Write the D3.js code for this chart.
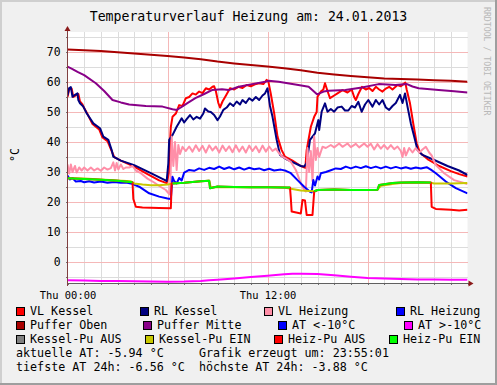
<!DOCTYPE html>
<html>
<head>
<meta charset="utf-8">
<script src="https://cdn.jsdelivr.net/npm/d3@7"></script>
<style>
  body { margin: 0; background: #fff; }
  svg text { font-family: "DejaVu Sans Mono", monospace; fill: #000; }
</style>
</head>
<body>
<div id="chart"></div>
<script>
// data: [hour, °C]
const vlKessel = [[0,55.0],[0.1,57.5],[0.25,57.8],[0.35,55],[0.5,55.5],[0.65,56],[0.75,53.5],[0.9,52.5],[1.0,51.3],[1.2,49.3],[1.5,46],[1.9,44.2],[2.1,41.5],[2.4,40.3],[2.65,37],[2.8,35],[3.2,33.8],[4.0,31.8],[4.8,29.3],[5.5,27.2],[5.95,26.3],
  [6.1,30],[6.15,40],[6.2,45],[6.3,48.4],[6.5,49.5],[6.7,52.3],[6.9,52],[7.1,54.6],[7.3,55],[7.5,56.2],[7.7,55.8],[7.9,56.8],[8.1,56.3],[8.3,57.9],[8.5,57.5],[8.7,58.4],[8.8,58.6],[8.9,57],[9.05,53],[9.15,51.5],[9.3,53.5],[9.5,55.4],[9.75,57.9],[10,57.5],[10.25,58.4],[10.5,58],[10.75,59],[11,58.6],[11.25,59.2],[11.5,59.6],[11.75,59.3],[11.95,60.7],[12.05,60.2],
  [12.2,56],[12.4,49.6],[12.6,41.8],[12.85,37.3],[13.05,35.1],[13.5,33.8],[14.0,32],[14.27,31.4],
  [14.35,37.3],[14.6,45.1],[14.8,48.4],[14.95,50],[15.0,55.1],[15.2,56.8],[15.35,57.5],[15.45,59.6],[15.6,57],[15.75,54.6],[16.0,55.5],[16.2,56.2],[16.5,57.3],[16.8,56.5],[17.05,57.5],[17.2,55],[17.3,54],[17.45,56],[17.67,58.4],[17.9,57.5],[18.1,58],[18.3,57],[18.5,58.4],[18.7,57.5],[18.9,56.8],[19.1,57.8],[19.3,58.4],[19.5,57.5],[19.8,59],[20.0,58.6],[20.27,59.8],[20.35,57.5],[20.55,52.9],[20.75,46],[20.95,39.6],[21.15,36.4],[21.6,34.3],[22.3,32],[23.0,30.3],[23.5,29.3],[24,28.5]];

const rlKessel = [[0,55.5],[0.1,58],[0.2,58.3],[0.3,55.1],[0.45,55.7],[0.6,56.2],[0.65,54],[0.75,52.9],[0.95,51.8],[1.15,49.6],[1.55,46.2],[1.95,44.6],[2.15,41.8],[2.45,40.7],[2.65,37.3],[2.75,35.1],[3.2,33.8],[4.0,32.3],[5.0,29.6],[5.85,27.3],[5.95,27.0],
  [6.05,32.9],[6.1,40.7],[6.3,42.3],[6.55,45.1],[6.85,47.9],[7.0,46.5],[7.15,47.6],[7.35,49],[7.55,47.5],[7.75,48.4],[7.95,47.8],[8.15,49.5],[8.25,51.2],[8.45,50.2],[8.6,50],[8.8,49],[9.0,47.3],[9.15,48.5],[9.35,50.7],[9.55,51.5],[9.75,52.9],[9.95,52],[10.15,53.5],[10.35,52.5],[10.5,54],[10.7,53],[10.9,54.6],[11.1,53.8],[11.3,55],[11.5,54],[11.7,55.5],[11.85,56.2],[12.0,57.9],
  [12.15,52],[12.3,48.4],[12.55,40.7],[12.75,35.7],[13.15,34.2],[13.5,33.3],[14.0,32],[14.2,31.8],[14.35,33],[14.55,40.7],[14.85,42.9],[15.05,47.3],[15.1,44],[15.25,50.1],[15.45,52.9],[15.6,50.1],[15.8,51],[16.0,50.1],[16.2,51.5],[16.45,51.8],[16.65,50.5],[16.85,50.5],[17.05,52],[17.25,51.5],[17.45,53.4],[17.65,50.1],[17.85,52.5],[18.05,54],[18.3,51.8],[18.5,54],[18.7,52.5],[18.9,54],[19.1,51.5],[19.3,50.7],[19.5,52],[19.7,53],[19.95,55.7],[20.1,53],[20.25,56.2],[20.4,51.8],[20.6,46.2],[20.8,41.8],[21.0,37.3],[21.3,35.7],[22.0,34],[22.8,32],[23.5,30.5],[24,29]];

const vlHeizung = [[0,32.5],[0.1,29.5],[0.2,32.5],[0.3,30],[0.45,32],[0.55,29.8],[0.7,31.5],[0.85,30.5],[1.0,31.5],[1.2,30.5],[1.4,31.5],[1.6,30.5],[1.8,31.2],[2.0,30.4],[2.2,31.5],[2.4,30.8],[2.6,31.3],[2.75,33.2],[2.85,30.5],[2.95,33],[3.05,30.8],[3.2,32.5],[3.35,31],[3.5,31.5],[3.7,31.5],[3.9,32],[4.1,30.5],[4.4,29.6],[4.8,27.8],[5.2,26.5],[5.6,25],[5.9,24],[6.05,23],[6.15,22.5],
  [6.25,41.8],[6.35,32],[6.45,40],[6.55,30.7],[6.65,39],[6.75,36],[6.9,38.4],[7.1,37],[7.3,38.5],[7.5,36.8],[7.7,38.9],[7.9,37],[8.1,38.7],[8.3,36.5],[8.5,38.9],[8.7,37.2],[8.9,38.5],[9.1,36.5],[9.3,38.8],[9.5,37],[9.7,38.6],[9.9,36.6],[10.1,38.9],[10.3,36.8],[10.5,38.5],[10.7,36.5],[10.9,38.8],[11.1,37],[11.3,38.6],[11.5,36.6],[11.7,38.8],[11.9,36.8],[12.1,38.5],[12.3,37],[12.5,37.8],[12.7,36.2],[12.9,35.1],[13.1,34.5],[13.4,33.4],[13.7,30.7],[14.0,26.2],[14.2,24],[14.3,23.5],
  [14.4,38],[14.5,30],[14.6,37],[14.7,27],[14.8,41.8],[14.9,34],[15.0,38],[15.1,35],[15.3,38.4],[15.5,38],[15.8,39],[16.0,38.2],[16.3,39.5],[16.5,38.4],[16.8,39.5],[17.0,38.3],[17.3,39.4],[17.5,38.2],[17.8,39.5],[18.0,38.4],[18.2,39.4],[18.4,37.5],[18.6,39.3],[18.8,37.8],[19.0,39],[19.2,37.6],[19.4,39],[19.6,37.6],[19.8,38.5],[20.0,37],[20.1,35],[20.2,38],[20.3,35.5],[20.5,38],[20.7,36.5],[20.9,38],[21.1,36.5],[21.3,37.5],[21.5,38.4],[21.7,36.5],[21.85,35.5],[22.1,32.3],[22.6,29.6],[23.2,27.3],[24,26]];

const rlHeizung = [[0,28.8],[0.15,27.5],[0.3,28],[0.5,26.8],[0.8,27],[1.0,26.6],[1.3,26.9],[1.6,26.5],[2.0,26.8],[2.4,26.4],[2.8,26.7],[3.2,26.4],[3.5,26.5],[3.8,26.2],[4.3,25.1],[4.9,22.9],[5.5,21.8],[6.0,21.2],[6.2,21],[6.3,28.4],[6.4,27],[6.55,26.2],[6.7,28],[6.85,27.2],[7.0,29.8],[7.3,30.7],[7.6,30.4],[7.9,31.2],[8.2,30.7],[8.5,31.4],[8.8,31],[9.1,31.8],[9.4,31],[9.7,31.6],[10,30.9],[10.3,31.5],[10.6,30.8],[10.9,31.4],[11.2,30.9],[11.5,31.2],[11.8,30.6],[12.1,31.1],[12.4,30.5],[12.8,30.8],[13.1,30.4],[13.4,29.6],[13.8,27.3],[14.2,25.1],[14.55,23.4],[14.65,23.2],[14.75,27.3],[14.85,25.5],[15.0,28.5],[15.1,27.5],[15.2,29.6],[15.5,30],[15.8,30.6],[16.1,31.2],[16.4,31],[16.7,31.8],[17.0,31.2],[17.3,31.8],[17.6,31.3],[17.9,31.9],[18.2,31.3],[18.5,31.8],[18.8,31.2],[19.1,31.8],[19.4,31.2],[19.7,31.7],[20.0,31.2],[20.3,31.6],[20.6,31.1],[20.9,31.5],[21.2,31.2],[21.55,31.6],[21.8,30.8],[22.1,29.6],[22.7,26.8],[23.3,24.6],[24,22.9]];

const pufferOben = [[0,70.8],[1,70.6],[2,70.3],[3,69.9],[4,69.5],[5,69.1],[6,68.7],[7,68.2],[8,67.6],[9,66.8],[10,66.2],[11,65.7],[12,65.2],[13,64.6],[14,63.9],[15,63.1],[16,62.5],[17,62.0],[18,61.6],[19,61.2],[20,61.0],[21,60.8],[22,60.6],[23,60.4],[24,60.1]];

const pufferMitte = [[0,65.1],[0.3,64.3],[0.6,63.4],[1.0,62.3],[1.7,59.6],[2.2,57],[2.7,54],[3.2,53.2],[3.7,52.5],[4.7,52],[5.7,51.8],[6.3,50.9],[6.55,50.7],[6.8,51.5],[7.17,52.9],[7.67,54.6],[8.2,56],[8.67,57.3],[9.27,57.6],[9.67,57.3],[10.27,58.4],[11.07,59.3],[11.87,60.1],[12.07,60.4],[12.67,60.1],[13.67,59.2],[14.47,58.4],[14.97,55.9],[15.37,56.8],[15.67,57.1],[16.67,57.3],[17.67,58.2],[18.67,59.3],[19.67,59],[20.37,59.3],[20.7,58.5],[21.07,57.9],[22.27,57.3],[23.2,56.9],[24,56.5]];

const atUnder10 = [];

const atOver10 = [[0,-6.1],[1,-6.2],[2,-6.3],[3,-6.35],[4,-6.45],[5,-6.5],[6,-6.55],[7,-6.5],[8,-6.3],[8.5,-6.1],[9,-5.9],[10,-5.5],[11,-5.0],[12,-4.6],[13,-4.1],[13.5,-3.9],[14,-3.95],[15,-4.0],[16,-4.4],[17,-4.9],[18,-5.3],[19,-5.5],[20,-5.7],[21,-5.8],[22,-5.85],[23,-5.9],[24,-5.95]];

const kesselPuAus = [];

const kesselPuEin = [[0,27.9],[1,27.8],[2,27.5],[3,27.2],[3.8,26.9],[4.0,26.2],[4.5,25.8],[5,25.6],[5.5,25.6],[6,25.8],[6.3,26.2],[7,26.4],[7.5,26.7],[8.0,26.9],[8.5,27.1],[8.6,24.8],[9,25],[10,24.9],[11,25],[12,24.9],[13,24.8],[13.4,24.4],[14,23.8],[14.8,23.6],[15,24],[16,24.2],[17,24],[18,24],[18.6,24.1],[18.8,25.4],[19.5,26],[20,26.3],[21,26.5],[21.8,26.4],[22,26.2],[23,26.2],[24,26.3]];

const heizPuAus = [[0,27.9],[1,27.7],[2,27.4],[3,27.1],[3.9,26.6],[3.95,21],[4.1,18.4],[4.5,18.2],[5,18.1],[5.5,18],[6.2,17.9],[6.25,26.2],[7,26.4],[8,26.9],[8.5,27.1],[8.55,24.6],[9,25.2],[10,25],[11,24.9],[12,24.9],[13,24.8],[13.35,24.8],[13.4,21.2],[13.45,16.8],[14.0,16.2],[14.1,20.7],[14.25,20.5],[14.35,15.7],[14.7,15.7],[14.8,23.4],[15,24],[16,24.2],[17,24],[18,24],[18.6,24.1],[18.7,25.7],[19.5,26.3],[20,26.5],[21,26.6],[21.8,26.5],[21.85,18.4],[22.1,17.7],[23,17.4],[23.5,17.2],[24,17.4]];

const heizPuEin = [[0,27.9],[1,27.7],[2,27.4],[3,27.1],[3.9,26.6],[3.95,null],[6.25,null],[6.3,26.2],[7,26.4],[8,26.9],[8.5,27.1],[8.55,24.6],[9,25.2],[10,25],[11,24.9],[12,24.9],[13,24.8],[13.35,24.8],[13.4,null],[14.75,null],[14.8,23.6],[15,24],[16,24.2],[17,24],[18,24],[18.6,24.1],[18.7,25.7],[19.5,26.3],[20,26.5],[21,26.6],[21.8,26.5],[21.85,null]];

const seriesNames = ["VL Kessel","RL Kessel","VL Heizung","RL Heizung","Puffer Oben","Puffer Mitte","AT <-10°C","AT >-10°C","Kessel-Pu AUS","Kessel-Pu EIN","Heiz-Pu AUS","Heiz-Pu EIN"];
const seriesColors = ["#ff0000","#000080","#ff8fa8","#0000ff","#a80000","#880088","#0000ff","#ff00ff","#808080","#c8c800","#ff0000","#00ff00"];
const seriesData = [vlKessel, rlKessel, vlHeizung, rlHeizung, pufferOben, pufferMitte, atUnder10, atOver10, kesselPuAus, kesselPuEin, heizPuAus, heizPuEin];

const yTickValues = [0,10,20,30,40,50,60,70];
const xTickValues = [0,12];
const xTickLabels = ["Thu 00:00","Thu 12:00"];

const titleText = "Temperaturverlauf Heizung am: 24.01.2013";
const infoLines = ["aktuelle AT: -5.94 °C     Grafik erzeugt um: 23:55:01",
                   "tiefste AT 24h: -6.56 °C  höchste AT 24h: -3.88 °C"];

const W = 497, H = 385;
const plot = {left: 67.5, right: 467.5, top: 32, bottom: 283};

const svg = d3.select("#chart").append("svg")
  .attr("width", W).attr("height", H);

// background + 3d frame
svg.append("rect").attr("width", W).attr("height", H).attr("fill", "#f0f0f0");
svg.append("rect").attr("x", 0).attr("y", 0).attr("width", W).attr("height", 2).attr("fill", "#cfcfcf");
svg.append("rect").attr("x", 0).attr("y", 0).attr("width", 2).attr("height", H).attr("fill", "#cfcfcf");
svg.append("rect").attr("x", 0).attr("y", H - 2).attr("width", W).attr("height", 2).attr("fill", "#9e9e9e");
svg.append("rect").attr("x", W - 2).attr("y", 0).attr("width", 2).attr("height", H).attr("fill", "#9e9e9e");

const x = d3.scaleLinear().domain([0, 24]).range([plot.left, plot.right]);
const y = d3.scaleLinear().domain([-7, 76.67]).range([plot.bottom, plot.top]);

svg.append("rect")
  .attr("x", plot.left).attr("y", plot.top)
  .attr("width", plot.right - plot.left).attr("height", plot.bottom - plot.top)
  .attr("fill", "#fff");

svg.append("clipPath").attr("id", "clip")
  .append("rect")
  .attr("x", plot.left).attr("y", plot.top)
  .attr("width", plot.right - plot.left).attr("height", plot.bottom - plot.top);

// grid
const grid = svg.append("g").attr("shape-rendering", "crispEdges");
const minorH = d3.range(-5, 76, 5).filter(v => v % 10 !== 0);
const minorX = d3.range(0, 25, 1).filter(h => h % 6 !== 0);
grid.selectAll(".gy").data(minorH).enter().append("line")
  .attr("x1", plot.left).attr("x2", plot.right)
  .attr("y1", d => Math.round(y(d)) + 0.5).attr("y2", d => Math.round(y(d)) + 0.5)
  .attr("stroke", "#dcdcdc");
grid.selectAll(".gx").data(minorX).enter().append("line")
  .attr("x1", d => Math.round(x(d)) + 0.5).attr("x2", d => Math.round(x(d)) + 0.5)
  .attr("y1", plot.top).attr("y2", plot.bottom)
  .attr("stroke", "#dcdcdc");
grid.selectAll(".my").data(yTickValues).enter().append("line")
  .attr("x1", plot.left).attr("x2", plot.right)
  .attr("y1", d => Math.round(y(d)) + 0.5).attr("y2", d => Math.round(y(d)) + 0.5)
  .attr("stroke", "#f5b8b8");
grid.selectAll(".mx").data([6, 12, 18]).enter().append("line")
  .attr("x1", d => Math.round(x(d)) + 0.5).attr("x2", d => Math.round(x(d)) + 0.5)
  .attr("y1", plot.top).attr("y2", plot.bottom)
  .attr("stroke", "#f5b8b8");

// series
const line = d3.line()
  .defined(d => d[1] !== null)
  .x(d => x(d[0]))
  .y(d => y(d[1]));

const lines = svg.append("g").attr("clip-path", "url(#clip)");
seriesData.forEach((data, i) => {
  if (!data.length) return;
  lines.append("path")
    .datum(data)
    .attr("fill", "none")
    .attr("stroke", seriesColors[i])
    .attr("stroke-width", 2)
    .attr("stroke-linejoin", "round")
    .attr("d", line);
});

// axes
const yAxis = d3.axisLeft(y).tickValues(yTickValues).tickSize(0).tickPadding(7);
const yAxisG = svg.append("g")
  .attr("transform", `translate(${plot.left},0)`)
  .call(yAxis);
yAxisG.select(".domain").remove();
yAxisG.selectAll("text").style("font-size", "11.4px").attr("fill", "#000");

const xAxis = d3.axisBottom(x).tickValues(xTickValues).tickSize(0).tickPadding(9)
  .tickFormat((d, i) => xTickLabels[i]);
const xAxisG = svg.append("g")
  .attr("transform", `translate(0,${plot.bottom})`)
  .call(xAxis);
xAxisG.select(".domain").remove();
xAxisG.selectAll("text").style("font-size", "10.4px").attr("fill", "#000");

// tick marks on the axes
const ticks = svg.append("g").attr("stroke", "#707070").attr("shape-rendering", "crispEdges");
ticks.selectAll(".ty").data(d3.range(-5, 76, 5)).enter().append("line")
  .attr("x1", plot.left - 2).attr("x2", plot.left)
  .attr("y1", d => Math.round(y(d)) + 0.5).attr("y2", d => Math.round(y(d)) + 0.5);
ticks.selectAll(".tx").data(d3.range(0, 25, 1)).enter().append("line")
  .attr("x1", d => Math.round(x(d)) + 0.5).attr("x2", d => Math.round(x(d)) + 0.5)
  .attr("y1", plot.bottom).attr("y2", plot.bottom + 2);

svg.append("line")
  .attr("x1", plot.left).attr("x2", plot.right + 3)
  .attr("y1", plot.bottom + 0.5).attr("y2", plot.bottom + 0.5)
  .attr("stroke", "#606060").attr("shape-rendering", "crispEdges");
svg.append("line")
  .attr("x1", plot.left).attr("x2", plot.left)
  .attr("y1", plot.bottom + 3).attr("y2", plot.top - 3)
  .attr("stroke", "#804040").attr("shape-rendering", "crispEdges");
svg.append("path")
  .attr("d", `M${plot.right + 1},${plot.bottom - 2.5}L${plot.right + 6},${plot.bottom + 0.5}L${plot.right + 1},${plot.bottom + 3.5}Z`)
  .attr("fill", "#8b1a1a");
svg.append("path")
  .attr("d", `M${plot.left - 3},${plot.top - 1}L${plot.left},${plot.top - 6}L${plot.left + 3},${plot.top - 1}Z`)
  .attr("fill", "#8b1a1a");

// title, unit, watermark
svg.append("text")
  .attr("x", 248.5).attr("y", 20.5)
  .attr("text-anchor", "middle")
  .style("font-size", "13.2px")
  .text(titleText);

svg.append("text")
  .attr("transform", "translate(19,155) rotate(-90)")
  .attr("text-anchor", "middle")
  .style("font-size", "11.7px")
  .text("°C");

svg.append("text")
  .attr("transform", "translate(484,7) rotate(90)")
  .attr("text-anchor", "start")
  .style("font-size", "8.2px")
  .style("fill", "#b8b8b8")
  .text("RRDTOOL / TOBI OETIKER");

// legend
const legendRowY = [311, 325, 339];
const legendColX = [[16, 140, 264, 396], [16, 143, 278, 404], [16, 145, 274, 389]];
const legend = svg.append("g");
seriesNames.forEach((name, i) => {
  const row = Math.floor(i / 4), col = i % 4;
  const lx = legendColX[row][col], ly = legendRowY[row];
  legend.append("rect")
    .attr("x", lx + 0.5).attr("y", ly - 3.5)
    .attr("width", 8).attr("height", 8)
    .attr("fill", seriesColors[i])
    .attr("stroke", "#000").attr("stroke-width", 1)
    .attr("shape-rendering", "crispEdges");
  legend.append("text")
    .attr("x", lx + 14).attr("y", ly + 4)
    .style("font-size", "11.7px")
    .text(name);
});

infoLines.forEach((t, i) => {
  svg.append("text")
    .attr("x", 16).attr("y", 357 + i * 14)
    .attr("xml:space", "preserve")
    .style("white-space", "pre")
    .style("font-size", "11.7px")
    .text(t);
});
</script>
</body>
</html>
